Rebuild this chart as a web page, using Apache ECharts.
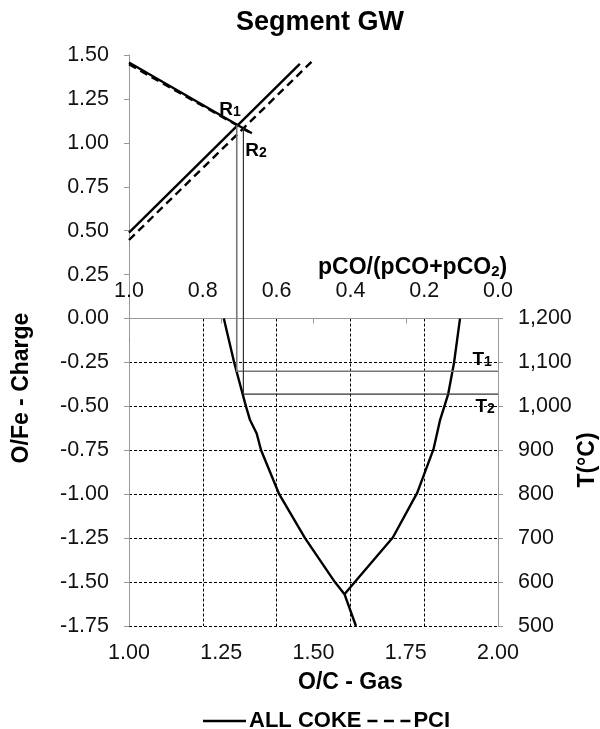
<!DOCTYPE html>
<html lang="en">
<head>
<meta charset="UTF-8">
<title>Segment GW</title>
<script src="https://cdn.jsdelivr.net/npm/echarts@6/dist/echarts.min.js"></script>
<style>
  html, body { margin: 0; padding: 0; background: #fff; }
  #main { width: 600px; height: 729px; }
</style>
</head>
<body>
<div id="main"></div>
<script type="text/javascript">
// operating lines (O/C gas, O/Fe charge)
var allCokeFall = [[1.00, 1.457], [1.333, 1.055]];
var allCokeRise = [[1.00, 0.489], [1.463, 1.449]];
var pciFall = [[1.00, 1.447], [1.325, 1.062]];
var pciRise = [[1.00, 0.447], [1.498, 1.468]];

// wustite boundaries
var wusLeft = [[1.257, 0], [1.285, -0.25], [1.317, -0.50], [1.328, -0.578], [1.346, -0.654],
               [1.358, -0.75], [1.407, -1.00], [1.477, -1.25], [1.558, -1.50], [1.584, -1.569]];
var wusRight = [[1.584, -1.569], [1.612, -1.50], [1.715, -1.246], [1.781, -0.992], [1.804, -0.863],
                [1.825, -0.745], [1.843, -0.578], [1.865, -0.43], [1.881, -0.25], [1.897, 0]];
var wusLow = [[1.584, -1.569], [1.615, -1.75]];

// reserve zone construction lines R1->T1, R2->T2
var r1Drop = [[1.292, 1.10], [1.292, -0.30], [2.00, -0.30]];
var r2Drop = [[1.31, 1.082], [1.31, -0.43], [2.00, -0.43]];

// point labels [x, y, letter, index]
var pointLabels = [[1.274, 1.193, 'R', '1'], [1.344, 0.96, 'R', '2'],
                   [1.957, -0.23, 'T', '1'], [1.965, -0.50, 'T', '2']];

var xTicks = [1.00, 2.00, 0.25];
var yTicks = [-1.75, 1.50, 0.25];
var tTicks = [500, 1200, 100];
var pcoTicks = [0, 1, 0.2];

var FONT = "'Liberation Sans', Arial, sans-serif";
var myChart = echarts.init(document.getElementById('main'));

function lineSeries(name, data, dashed, color, width) {
    return {
        name: name, type: 'line', data: data, xAxisIndex: 0, yAxisIndex: 0,
        symbol: 'none', silent: true, animation: false, color: '#000',
        lineStyle: {color: color || '#000', width: width || 2.4, type: dashed ? [8, 5] : 'solid'}
    };
}

var option = {
    animation: false,
    title: {
        text: 'Segment GW', left: 315, top: 4, textAlign: 'center',
        textStyle: {fontFamily: FONT, fontSize: 27, fontWeight: 'bold', color: '#000'}
    },
    legend: {
        left: 198, top: 705, itemWidth: 43, itemHeight: 2.4, itemGap: 6,
        data: [
            {name: 'ALL COKE', icon: 'path://M0,0h43v2.4h-43z'},
            {name: 'PCI', icon: 'path://M0,0h10v2.4h-10z M16.5,0h10v2.4h-10z M33,0h10v2.4h-10z'}
        ],
        itemStyle: {color: '#000'},
        textStyle: {fontFamily: FONT, fontSize: 22, fontWeight: 'bold', color: '#000', padding: [0, 0, 0, -2]}
    },
    grid: [
        {left: 129, width: 369, top: 55, height: 571},
        {left: 129, width: 369, top: 318.54, height: 307.46}
    ],
    xAxis: [
        {
            gridIndex: 0, type: 'value', position: 'bottom',
            min: xTicks[0], max: xTicks[1], interval: xTicks[2],
            axisLine: {lineStyle: {color: '#999'}},
            axisTick: {show: true, length: 5, lineStyle: {color: '#999'}},
            axisLabel: {margin: 16, fontFamily: FONT, fontSize: 21.5, color: '#111',
                formatter: function (v) { return v.toFixed(2); }},
            splitLine: {show: false}
        },
        {
            gridIndex: 1, type: 'value', position: 'top', inverse: true,
            min: pcoTicks[0], max: pcoTicks[1], interval: pcoTicks[2],
            axisLine: {show: false},
            axisTick: {show: false},
            axisLabel: {margin: 16, fontFamily: FONT, fontSize: 21.5, color: '#111',
                formatter: function (v) { return v.toFixed(1); }},
            splitLine: {show: true, lineStyle: {color: '#000', width: 1, type: [3, 2]}}
        }
    ],
    yAxis: [
        {
            gridIndex: 0, type: 'value', position: 'left',
            min: yTicks[0], max: yTicks[1], interval: yTicks[2],
            axisLine: {show: true, lineStyle: {color: '#999'}},
            axisTick: {show: true, length: 5, lineStyle: {color: '#999'}},
            axisLabel: {margin: 20, fontFamily: FONT, fontSize: 21.5, color: '#111',
                formatter: function (v) { return v.toFixed(2); }},
            splitLine: {show: false}
        },
        {
            gridIndex: 1, type: 'value', position: 'right',
            min: tTicks[0], max: tTicks[1], interval: tTicks[2],
            axisLine: {show: true, lineStyle: {color: '#999'}},
            axisTick: {show: true, length: 5, lineStyle: {color: '#999'}},
            axisLabel: {margin: 20, fontFamily: FONT, fontSize: 21.5, color: '#111',
                formatter: function (v) { return v.toLocaleString('en-US'); }},
            splitLine: {show: true, lineStyle: {color: '#000', width: 1, type: [3, 2]}}
        }
    ],
    graphic: [
        {type: 'text', left: 298, top: 671,
            style: {text: 'O/C - Gas', font: 'bold 23px ' + FONT, fill: '#000'}},
        {type: 'text', x: 22, y: 388, rotation: Math.PI / 2,
            style: {text: 'O/Fe - Charge', font: 'bold 23px ' + FONT, fill: '#000', align: 'center', verticalAlign: 'middle'}},
        {type: 'text', x: 588, y: 460, rotation: Math.PI / 2,
            style: {text: 'T(°C)', font: 'bold 23px ' + FONT, fill: '#000', align: 'center', verticalAlign: 'middle'}},
        {type: 'text', x: 318, y: 253,
            style: {text: '{b|pCO/(pCO+pCO}{s|2}{b|)}', fill: '#000',
                rich: {b: {fontFamily: FONT, fontSize: 23, fontWeight: 'bold', lineHeight: 26, verticalAlign: 'bottom'},
                       s: {fontFamily: FONT, fontSize: 15, fontWeight: 'bold', lineHeight: 20, verticalAlign: 'bottom'}}}}
    ],
    series: [
        lineSeries('ALL COKE', allCokeFall, false),
        lineSeries('ALL COKE', allCokeRise, false),
        lineSeries('PCI', pciFall, true),
        lineSeries('PCI', pciRise, true),
        lineSeries('wustite', wusLeft, false),
        lineSeries('wustite', wusRight, false),
        lineSeries('wustite', wusLow, false),
        lineSeries('r1', r1Drop, false, '#777', 1.6),
        lineSeries('r2', r2Drop, false, '#333', 1.2),
        {
            name: 'labels', type: 'scatter', xAxisIndex: 0, yAxisIndex: 0,
            symbol: 'circle', symbolSize: 0, silent: true, z: 5,
            itemStyle: {color: '#000'},
            data: pointLabels,
            label: {
                show: true, position: 'inside', color: '#000', opacity: 1, textBorderWidth: 0,
                formatter: function (p) { return '{b|' + p.data[2] + '}{s|' + p.data[3] + '}'; },
                rich: {
                    b: {fontFamily: FONT, fontSize: 19, fontWeight: 'bold', color: '#000', lineHeight: 20,
                        verticalAlign: 'bottom', textBorderWidth: 0},
                    s: {fontFamily: FONT, fontSize: 14, fontWeight: 'bold', color: '#000', lineHeight: 16,
                        verticalAlign: 'bottom', textBorderWidth: 0}
                }
            }
        }
    ]
};
myChart.setOption(option);
</script>
</body>
</html>
